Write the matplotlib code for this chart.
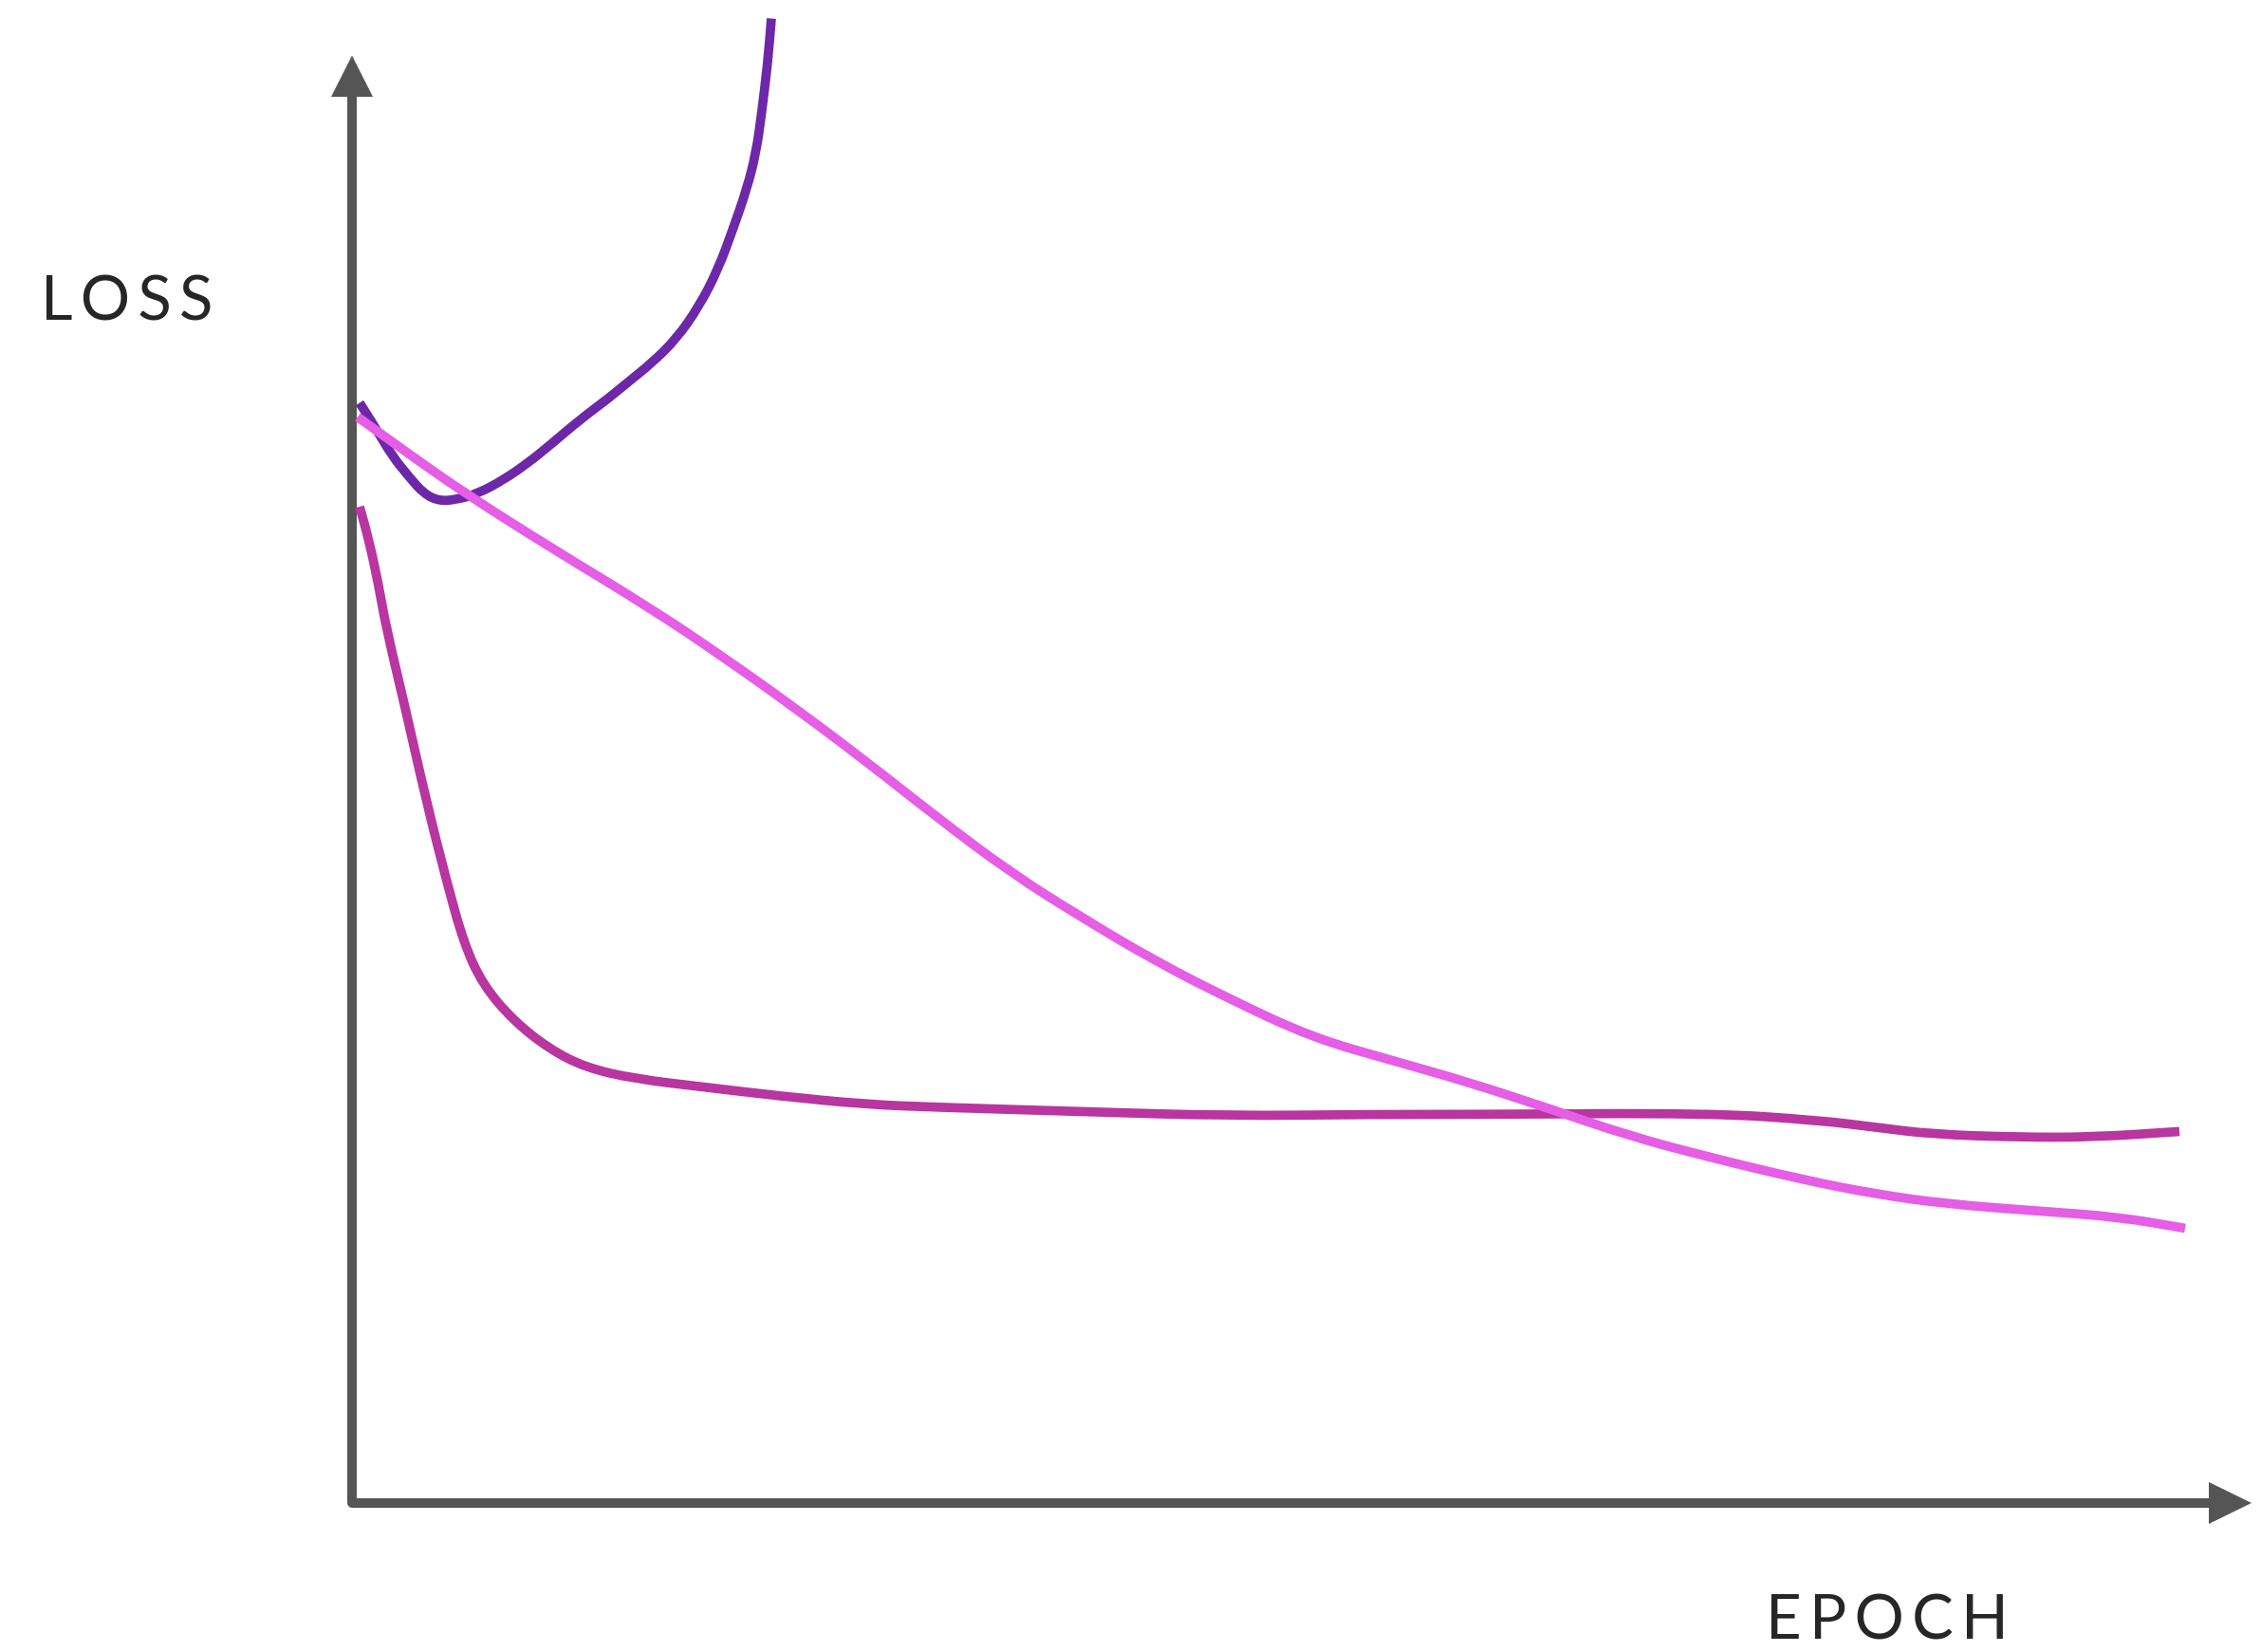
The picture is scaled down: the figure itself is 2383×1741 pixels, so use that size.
import matplotlib
matplotlib.use("Agg")
import matplotlib.pyplot as plt
from matplotlib.path import Path
from matplotlib.patches import PathPatch
import numpy as np

# ---- data (epoch, loss), arbitrary units ----
purple_epoch = [0.4, 1.3, 2.1, 3.0, 3.8, 4.6, 5.5, 6.6, 8.0, 9.3, 10.5, 12.0, 13.5, 14.5,
                15.8, 17.1, 18.3, 19.3, 20.1, 20.8, 21.3, 21.6, 21.9, 22.1]
purple_loss = [77.3, 75.4, 73.6, 72.1, 70.9, 70.4, 70.5, 70.9, 71.9, 73.1, 74.4, 76.1, 77.6, 78.7,
               80.1, 81.8, 84.1, 86.7, 89.6, 92.3, 94.9, 97.8, 101.1, 104.3]

magenta_epoch = [0.4, 0.9, 1.4, 1.8, 2.8, 3.9, 5.0, 5.9, 6.9, 8.5, 10.4, 12.3, 14.9, 18.7, 22.5,
                 27.1, 30.9, 38.5, 46.1, 53.7, 59.0, 71.5, 77.2, 80.3, 83.3, 87.9, 91.7, 96.3]
magenta_loss = [70.0, 67.6, 64.5, 61.5, 55.9, 49.4, 43.6, 39.3, 36.4, 33.9, 31.9, 30.6, 29.8, 29.2, 28.6,
                28.0, 27.8, 27.5, 27.2, 27.3, 27.3, 27.4, 26.9, 26.4, 25.9, 25.7, 25.7, 26.1]

pink_epoch = [0.3, 3.0, 6.0, 10.5, 15.7, 19.5, 23.3, 27.1, 30.9, 34.7, 38.5, 42.3, 46.1, 50.6, 54.8,
              59.0, 63.1, 67.3, 71.5, 76.5, 80.3, 84.1, 89.0, 93.1, 96.6]
pink_loss = [76.3, 73.7, 70.9, 67.1, 62.9, 59.5, 55.9, 52.1, 48.1, 44.3, 41.1, 38.1, 35.5, 32.7, 31.1,
             29.5, 27.7, 25.8, 24.3, 22.7, 21.7, 21.0, 20.5, 20.1, 19.3]

x_label = "EPOCH"
y_label = "LOSS"

# ---- styling ----
W, H, DPI = 2383, 1741, 100
AXIS_COLOR = "#555555"
TEXT_COLOR = "#262626"
C_PURPLE = "#6C28A9"
C_MAGENTA = "#B9359F"
C_PINK = "#E55EE5"

fig = plt.figure(figsize=(W / DPI, H / DPI), dpi=DPI)
fig.patch.set_facecolor("white")
ax = fig.add_axes([0, 0, 1, 1])
ax.set_xlim(-18.55, 100.6)
ax.set_ylim(-10.47, 105.6)
ax.axis("off")

# axes lines with arrow heads
x_end, y_end = 97.85, 98.8
ax.plot([0, 0, x_end], [y_end, 0, 0], color=AXIS_COLOR, lw=7.2,
        solid_joinstyle="round", solid_capstyle="butt", zorder=2)
ax.fill([-1.1, 1.1, 0], [y_end, y_end, 101.7], color=AXIS_COLOR, lw=0, zorder=2)
ax.fill([x_end, x_end, 100.1], [1.47, -1.47, 0], color=AXIS_COLOR, lw=0, zorder=2)


def smooth_curve(xs, ys, color, z):
    """Draw the read points as a smooth quadratic-Bezier path (rendering only)."""
    pts = list(zip(xs, ys))
    verts = [pts[0]]
    codes = [Path.MOVETO]
    mids = [((pts[i][0] + pts[i + 1][0]) / 2, (pts[i][1] + pts[i + 1][1]) / 2)
            for i in range(len(pts) - 1)]
    verts.append(mids[0]); codes.append(Path.LINETO)
    for i in range(1, len(pts) - 1):
        verts += [pts[i], mids[i]]
        codes += [Path.CURVE3, Path.CURVE3]
    verts.append(pts[-1]); codes.append(Path.LINETO)
    patch = PathPatch(Path(verts, codes), facecolor="none", edgecolor=color,
                      lw=7.0, capstyle="butt", joinstyle="round", zorder=z)
    ax.add_patch(patch)


smooth_curve(purple_epoch, purple_loss, C_PURPLE, 3)
smooth_curve(magenta_epoch, magenta_loss, C_MAGENTA, 4)
smooth_curve(pink_epoch, pink_loss, C_PINK, 5)

HS = "\u200a\u200a"  # hair spaces for letter spacing
font = dict(family=["Lato", "DejaVu Sans"], color=TEXT_COLOR, fontsize=47)
fig.text(43 / W, 1 - 338 / H, HS.join(y_label), ha="left", va="baseline", **font)
fig.text(1861 / W, 2 / H, HS.join(x_label), ha="left", va="bottom", **font)

fig.savefig("out.png", dpi=DPI, facecolor="white")
